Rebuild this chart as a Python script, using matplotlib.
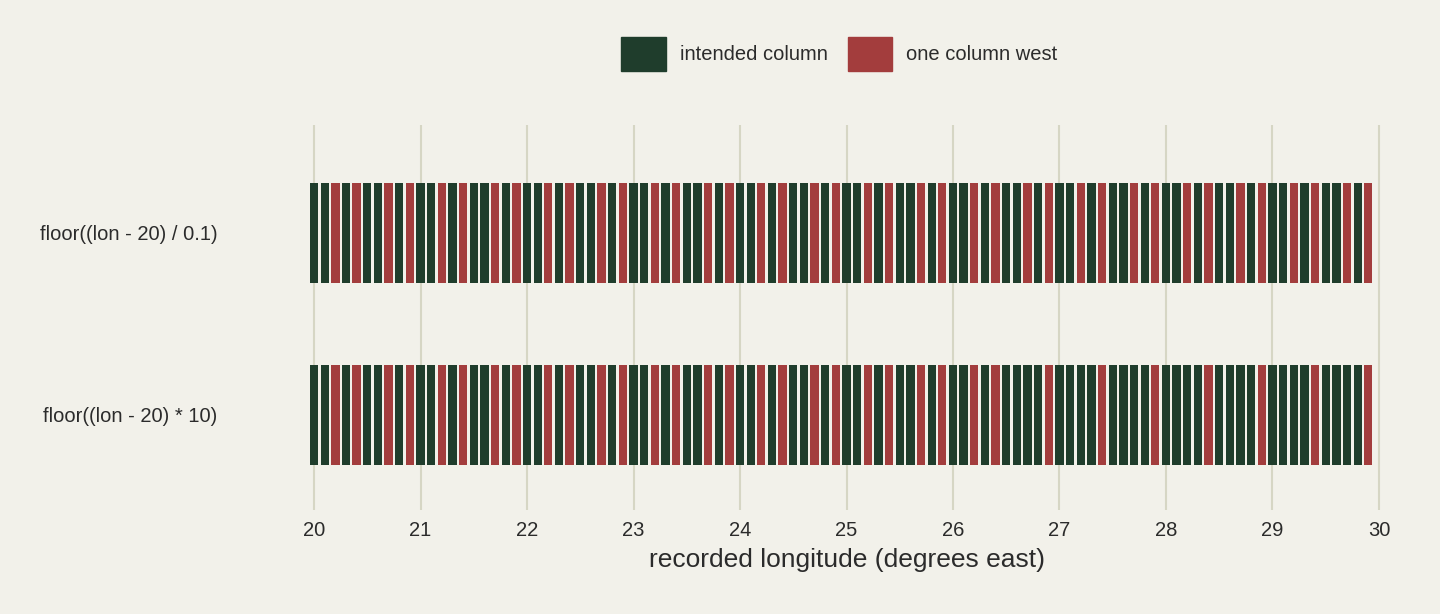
import matplotlib
matplotlib.use("Agg")
import matplotlib.pyplot as plt
from matplotlib.patches import Patch
import numpy as np

plt.rcParams['font.family'] = ['Liberation Sans', 'DejaVu Sans']

categories = ["floor((lon - 20) * 10)", "floor((lon - 20) / 0.1)"]
lon_start = 20.0
lon_step = 0.1
# 1 = one column west, 0 = intended column; per degree blocks of 10 bars
top_pattern = [0,0,1,0,1,0,0,1,0,1] * 10
bottom_pattern = ([0,0,1,0,1,0,0,1,0,1] * 6 +
                  [0,0,1,0,1,0,0,0,0,1] +
                  [0,0,0,0,1,0,0,0,0,1] * 3)
series = [bottom_pattern, top_pattern]
legend_labels = ["intended column", "one column west"]
colors = ["#1f3d2c", "#a33d3d"]
bg = "#f2f1ea"

fig = plt.figure(figsize=(14.4, 6.14), dpi=100, facecolor=bg)
ax = fig.add_axes([0.2107, 0.1694, 0.7543, 0.627], facecolor=bg)
for yi, pat in enumerate(series):
    xs = lon_start + lon_step * np.arange(len(pat))
    cols = [colors[v] for v in pat]
    ax.barh(np.full(len(pat), yi), np.full(len(pat), 0.078), left=xs - 0.039,
            height=0.55, color=cols, zorder=2)
ax.set_xlim(19.9, 30.1)
ax.set_ylim(-0.522, 1.593)
ax.set_xticks(range(20, 31))
ax.set_yticks([0, 1])
ax.set_yticklabels(categories, fontsize=14.5, color="#2b2b2b")
ax.tick_params(axis="x", labelsize=14.5, colors="#2b2b2b", length=0, pad=8)
ax.tick_params(axis="y", length=0, pad=62)
ax.grid(axis="x", color="#d6d6c4", linewidth=1.5, zorder=0)
for s in ax.spines.values():
    s.set_visible(False)
ax.set_xlabel("recorded longitude (degrees east)", fontsize=19, color="#2b2b2b", labelpad=6)
handles = [Patch(color=c, label=l) for c, l in zip(colors, legend_labels)]
fig.legend(handles=handles, loc="center", bbox_to_anchor=(0.583, 0.912), ncol=2,
           frameon=False, fontsize=14.5, handlelength=2.2, handleheight=2.2,
           columnspacing=1.0, handletextpad=0.7, labelcolor="#2b2b2b")
fig.savefig("out.png", dpi=100, facecolor=bg)
